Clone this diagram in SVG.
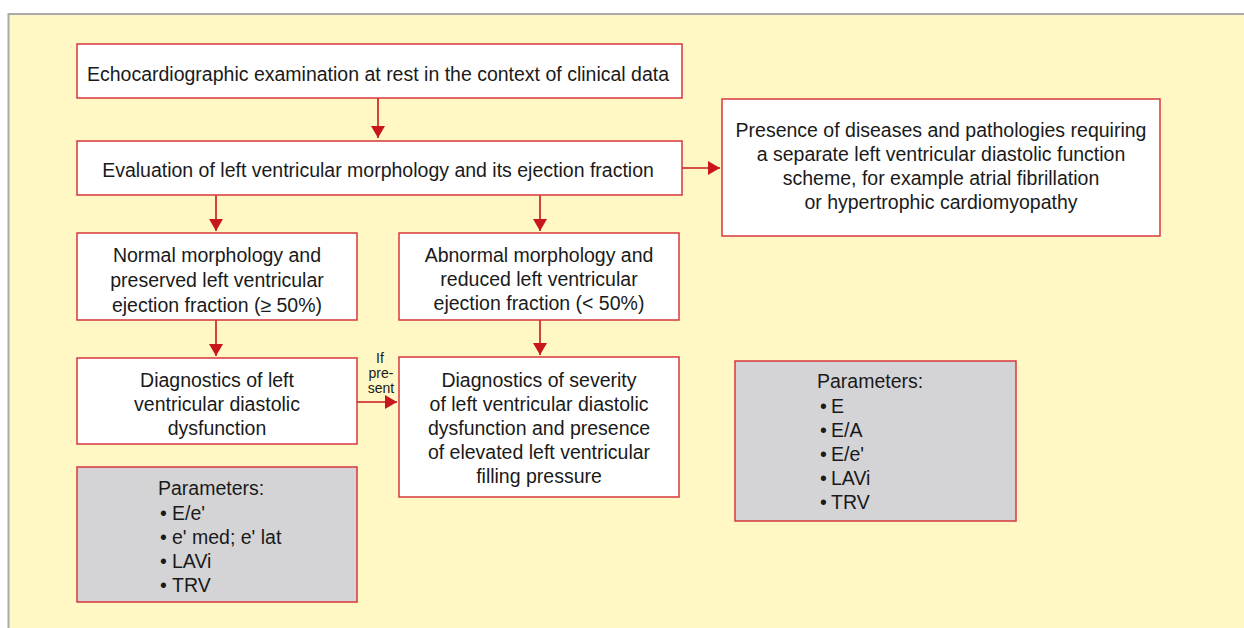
<svg xmlns="http://www.w3.org/2000/svg" width="1244" height="628" viewBox="0 0 1244 628">
  <defs>
    <marker id="ah" markerWidth="12" markerHeight="14" refX="12" refY="7" orient="auto" markerUnits="userSpaceOnUse">
      <path d="M0,0 L12,7 L0,14 Z" fill="#C8161D"/>
    </marker>
  </defs>
  <style>
    .box { fill: #FFFFFF; stroke: #D7373D; stroke-width: 1.5; }
    .par { fill: #D4D4D6; stroke: #D7373D; stroke-width: 1.5; }
    .t { font-family: "Liberation Sans", Arial, sans-serif; font-size: 19.5px; fill: #1A1A1A; }
    .c { text-anchor: middle; }
    .s { font-family: "Liberation Sans", Arial, sans-serif; font-size: 14px; fill: #1A1A1A; text-anchor: middle; }
    .ln { stroke: #C8161D; stroke-width: 1.6; fill: none; marker-end: url(#ah); }
  </style>
  <rect x="0" y="0" width="1244" height="628" fill="#FFFFFF"/>
  <rect x="8.5" y="14" width="1240" height="620" fill="#FFF8C4" stroke="#AAAAAA" stroke-width="2"/>

  <g id="connectors">
    <line class="ln" x1="378" y1="98" x2="378" y2="138"/>
    <line class="ln" x1="682" y1="168" x2="720" y2="168"/>
    <line class="ln" x1="216" y1="195" x2="216" y2="231"/>
    <line class="ln" x1="540" y1="195" x2="540" y2="231"/>
    <line class="ln" x1="216" y1="320" x2="216" y2="356"/>
    <line class="ln" x1="540" y1="320" x2="540" y2="355"/>
    <line class="ln" x1="357" y1="402" x2="397" y2="402"/>
    <text class="s" x="380" y="363">If</text>
    <text class="s" x="381" y="378">pre-</text>
    <text class="s" x="381" y="393">sent</text>
  </g>

  <g id="n1">
    <rect class="box" x="77" y="44" width="605" height="54"/>
    <text class="t c" x="378" y="81">Echocardiographic examination at rest in the context of clinical data</text>
  </g>
  <g id="n2">
    <rect class="box" x="77" y="141" width="605" height="54"/>
    <text class="t c" x="378" y="177">Evaluation of left ventricular morphology and its ejection fraction</text>
  </g>
  <g id="n3">
    <rect class="box" x="722" y="99" width="438" height="137"/>
    <text class="t c" x="941" y="137">Presence of diseases and pathologies requiring</text>
    <text class="t c" x="941" y="161">a separate left ventricular diastolic function</text>
    <text class="t c" x="941" y="185">scheme, for example atrial fibrillation</text>
    <text class="t c" x="941" y="209">or hypertrophic cardiomyopathy</text>
  </g>
  <g id="n4">
    <rect class="box" x="77" y="233" width="280" height="87"/>
    <text class="t c" x="217" y="262">Normal morphology and</text>
    <text class="t c" x="217" y="287">preserved left ventricular</text>
    <text class="t c" x="217" y="312">ejection fraction (≥ 50%)</text>
  </g>
  <g id="n5">
    <rect class="box" x="399" y="233" width="280" height="87"/>
    <text class="t c" x="539" y="262">Abnormal morphology and</text>
    <text class="t c" x="539" y="286">reduced left ventricular</text>
    <text class="t c" x="539" y="310">ejection fraction (&lt; 50%)</text>
  </g>
  <g id="n6">
    <rect class="box" x="77" y="358" width="280" height="86"/>
    <text class="t c" x="217" y="387">Diagnostics of left</text>
    <text class="t c" x="217" y="411">ventricular diastolic</text>
    <text class="t c" x="217" y="435">dysfunction</text>
  </g>
  <g id="n7">
    <rect class="box" x="399" y="357" width="280" height="140"/>
    <text class="t c" x="539" y="387">Diagnostics of severity</text>
    <text class="t c" x="539" y="411">of left ventricular diastolic</text>
    <text class="t c" x="539" y="435">dysfunction and presence</text>
    <text class="t c" x="539" y="459">of elevated left ventricular</text>
    <text class="t c" x="539" y="483">filling pressure</text>
  </g>
  <g id="p1">
    <rect class="par" x="77" y="467" width="280" height="135"/>
    <text class="t" x="158" y="495">Parameters:</text>
    <text class="t" x="160" y="520">•</text><text class="t" x="172" y="520">E/e'</text>
    <text class="t" x="160" y="544">•</text><text class="t" x="172" y="544">e' med; e' lat</text>
    <text class="t" x="160" y="568">•</text><text class="t" x="172" y="568">LAVi</text>
    <text class="t" x="160" y="592">•</text><text class="t" x="172" y="592">TRV</text>
  </g>
  <g id="p2">
    <rect class="par" x="735" y="361" width="281" height="160"/>
    <text class="t" x="817" y="388">Parameters:</text>
    <text class="t" x="820" y="413">•</text><text class="t" x="831" y="413">E</text>
    <text class="t" x="820" y="437">•</text><text class="t" x="831" y="437">E/A</text>
    <text class="t" x="820" y="461">•</text><text class="t" x="831" y="461">E/e'</text>
    <text class="t" x="820" y="485">•</text><text class="t" x="831" y="485">LAVi</text>
    <text class="t" x="820" y="509">•</text><text class="t" x="831" y="509">TRV</text>
  </g>
</svg>
